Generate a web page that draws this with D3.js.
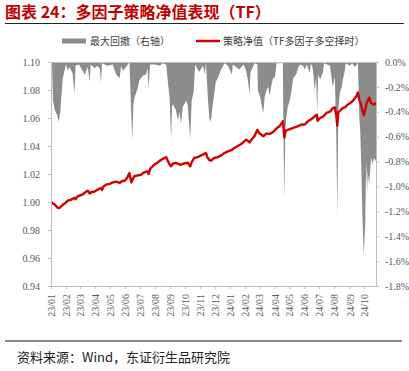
<!DOCTYPE html>
<html lang="zh">
<head>
<meta charset="UTF-8">
<title>多因子策略净值表现（TF）</title>
<script src="https://d3js.org/d3.v7.min.js"></script>
<style>
  body { margin: 0; background: #fff; }
  svg { display: block; }
</style>
</head>
<body>
<div id="chart"></div>
<script>
// 策略净值（TF多因子多空择时），从图上读出的估计值
const navDates = [
  '2023-01-02','2023-01-05','2023-01-09','2023-01-15','2023-01-19','2023-01-25','2023-01-31',
  '2023-02-04','2023-02-10','2023-02-18','2023-02-20','2023-02-24','2023-03-04','2023-03-09',
  '2023-03-14','2023-03-17','2023-03-21','2023-03-24','2023-03-31','2023-04-06','2023-04-13',
  '2023-04-15','2023-04-18','2023-04-23','2023-05-01','2023-05-07','2023-05-14','2023-05-21',
  '2023-05-26','2023-05-31','2023-06-05','2023-06-10','2023-06-14','2023-06-17','2023-06-20',
  '2023-06-27','2023-07-04','2023-07-09','2023-07-17','2023-07-19','2023-07-23','2023-07-31',
  '2023-08-06','2023-08-13','2023-08-18','2023-08-24','2023-08-28','2023-08-31','2023-09-03',
  '2023-09-07','2023-09-13','2023-09-19','2023-09-23','2023-09-29','2023-10-07','2023-10-12',
  '2023-10-15','2023-10-20','2023-10-27','2023-11-03','2023-11-08','2023-11-13','2023-11-16',
  '2023-11-20','2023-11-23','2023-11-30','2023-12-07','2023-12-14','2023-12-21','2023-12-28',
  '2024-01-04','2024-01-10','2024-01-17','2024-01-24','2024-01-29','2024-02-03','2024-02-07',
  '2024-02-10','2024-02-15','2024-02-20','2024-02-26','2024-02-29','2024-03-09','2024-03-16',
  '2024-03-22','2024-03-29','2024-04-05','2024-04-12','2024-04-18','2024-04-21','2024-04-24',
  '2024-04-28','2024-05-05','2024-05-12','2024-05-18','2024-05-25','2024-06-02','2024-06-08',
  '2024-06-14','2024-06-18','2024-06-26','2024-06-28','2024-07-03','2024-07-09','2024-07-16',
  '2024-07-23','2024-07-29','2024-08-02','2024-08-05','2024-08-07','2024-08-09','2024-08-12',
  '2024-08-18','2024-08-24','2024-08-28','2024-09-04','2024-09-08','2024-09-15','2024-09-18',
  '2024-09-21','2024-09-25','2024-09-27','2024-09-30','2024-10-03','2024-10-06','2024-10-11',
  '2024-10-15','2024-10-21','2024-10-25'
];
const navValues = [
  1.000,0.999,0.998,0.9957,0.996,0.998,0.9995,
  1.001,1.0015,1.003,1.002,1.004,1.005,1.006,
  1.0076,1.008,1.006,1.007,1.0075,1.0088,1.010,
  1.0085,1.011,1.0124,1.013,1.014,1.0145,1.0136,
  1.015,1.0152,1.017,1.0207,1.014,1.0165,1.0184,
  1.019,1.0195,1.021,1.022,1.020,1.024,1.0267,
  1.028,1.030,1.031,1.032,1.029,1.0267,1.0255,
  1.0275,1.0279,1.027,1.0265,1.0275,1.028,1.0255,
  1.0285,1.0314,1.032,1.0333,1.034,1.035,1.032,
  1.030,1.0295,1.0314,1.032,1.0333,1.035,1.0362,
  1.037,1.0386,1.040,1.0414,1.043,1.0445,1.0435,
  1.0425,1.045,1.0469,1.0516,1.0495,1.047,1.049,
  1.0485,1.050,1.0525,1.0545,1.0576,1.046,1.051,
  1.0515,1.0524,1.0533,1.054,1.0552,1.0555,1.0576,
  1.059,1.060,1.0624,1.058,1.060,1.061,1.0636,
  1.0645,1.0671,1.0676,1.062,1.0545,1.064,1.065,
  1.0671,1.068,1.0695,1.071,1.0724,1.0755,1.0783,
  1.073,1.069,1.066,1.062,1.066,1.0707,1.0745,
  1.0707,1.0695,1.0707
];

// 最大回撤（右轴，%）
const ddDates = [
  '2023-01-03','2023-01-05','2023-01-09','2023-01-13','2023-01-17','2023-01-20','2023-01-22',
  '2023-01-25','2023-01-29','2023-02-01','2023-02-04','2023-02-08','2023-02-14','2023-02-18',
  '2023-02-20','2023-02-27','2023-03-05','2023-03-11','2023-03-17','2023-03-21','2023-03-23',
  '2023-03-31','2023-04-06','2023-04-11','2023-04-13','2023-04-15','2023-04-26','2023-05-07',
  '2023-05-14','2023-05-21','2023-05-24','2023-05-28','2023-06-03','2023-06-10','2023-06-13',
  '2023-06-16','2023-06-18','2023-06-20','2023-06-27','2023-06-30','2023-07-07','2023-07-14',
  '2023-07-17','2023-07-19','2023-07-22','2023-08-01','2023-08-11','2023-08-17','2023-08-24',
  '2023-08-28','2023-08-31','2023-09-03','2023-09-05','2023-09-07','2023-09-13','2023-09-17',
  '2023-09-20','2023-09-23','2023-09-27','2023-10-04','2023-10-07','2023-10-12','2023-10-15',
  '2023-10-19','2023-10-22','2023-10-30','2023-11-07','2023-11-11','2023-11-13','2023-11-17',
  '2023-11-20','2023-11-23','2023-11-27','2023-11-30','2023-12-03','2023-12-07','2023-12-14',
  '2023-12-21','2023-12-28','2024-01-05','2024-01-07','2024-01-20','2024-01-29','2024-02-03',
  '2024-02-07','2024-02-10','2024-02-12','2024-02-16','2024-02-20','2024-02-26','2024-02-27',
  '2024-03-02','2024-03-09','2024-03-12','2024-03-16','2024-03-19','2024-03-22','2024-03-26',
  '2024-03-29','2024-04-02','2024-04-05','2024-04-15','2024-04-18','2024-04-19','2024-04-21',
  '2024-04-23','2024-04-25','2024-04-28','2024-05-02','2024-05-06','2024-05-09','2024-05-13',
  '2024-05-16','2024-05-19','2024-05-23','2024-05-29','2024-06-02','2024-06-06','2024-06-12',
  '2024-06-14','2024-06-18','2024-06-22','2024-06-25','2024-06-27','2024-06-29','2024-07-03',
  '2024-07-06','2024-07-09','2024-07-11','2024-07-23','2024-07-25','2024-07-29','2024-08-02',
  '2024-08-05','2024-08-07','2024-08-09','2024-08-12','2024-08-16','2024-08-19','2024-08-22',
  '2024-08-24','2024-09-02','2024-09-06','2024-09-12','2024-09-16','2024-09-18','2024-09-21',
  '2024-09-23','2024-09-25','2024-09-27','2024-09-30','2024-10-03','2024-10-05','2024-10-07',
  '2024-10-08','2024-10-11','2024-10-15','2024-10-18','2024-10-21','2024-10-25'
];
const ddValues = [
  0,-0.31,-0.39,-0.42,-0.48,-0.40,-0.29,
  -0.13,-0.06,-0.02,-0.07,-0.04,-0.09,-0.25,
  -0.03,-0.02,-0.06,-0.10,-0.04,-0.155,-0.02,
  -0.05,-0.03,-0.06,-0.17,-0.01,-0.03,-0.02,
  -0.10,-0.13,-0.03,-0.07,-0.04,0,-0.35,
  -0.63,-0.35,-0.29,-0.21,-0.15,-0.11,-0.10,
  -0.05,-0.22,-0.02,-0.02,-0.03,-0.01,-0.02,
  -0.18,-0.29,-0.62,-0.36,-0.34,-0.39,-0.47,
  -0.40,-0.50,-0.36,-0.31,-0.35,-0.62,-0.31,
  -0.24,-0.02,-0.08,-0.03,-0.10,0,-0.29,
  -0.45,-0.48,-0.34,-0.26,-0.16,-0.13,-0.06,
  -0.01,-0.03,-0.10,-0.02,-0.06,-0.02,-0.07,
  -0.155,-0.26,-0.08,-0.05,-0.01,-0.02,-0.23,
  -0.27,-0.41,-0.28,-0.22,-0.20,-0.27,-0.18,
  -0.13,-0.12,-0.01,-0.01,0,-0.50,-1.10,
  -0.55,-0.45,-0.36,-0.31,-0.22,-0.13,-0.11,
  -0.09,-0.05,-0.02,-0.03,-0.06,-0.02,-0.09,
  -0.01,-0.05,-0.23,-0.12,-0.41,-0.10,-0.14,
  -0.11,-0.08,-0.01,-0.03,-0.09,-0.20,-0.12,
  -0.60,-1.25,-0.40,-0.25,-0.20,-0.13,-0.08,
  -0.01,-0.03,-0.01,-0.04,-0.02,0,-0.45,
  -0.57,-0.84,-1.20,-1.56,-1.30,-0.79,-1.05,
  -0.88,-0.98,-0.77,-0.82,-0.77,-0.80
];

const leftTicks = [0.94, 0.96, 0.98, 1.00, 1.02, 1.04, 1.06, 1.08, 1.10];
const rightTicks = [-1.8, -1.6, -1.4, -1.2, -1.0, -0.8, -0.6, -0.4, -0.2, 0];

const W = 409, H = 371;
const plotL = 51, plotR = 376, plotT = 62, plotB = 286;
const serif = '"Liberation Serif", "Times New Roman", serif';
const cjk = '"Noto Sans CJK SC", "Noto Sans", sans-serif';

const parse = d3.timeParse('%Y-%m-%d');
const nav = navDates.map((d, i) => ({ date: parse(d), v: navValues[i] }));
const dd = ddDates.map((d, i) => ({ date: parse(d), v: ddValues[i] }));

const svg = d3.select('#chart').append('svg')
    .attr('width', W)
    .attr('height', H);
svg.append('rect').attr('width', W).attr('height', H).attr('fill', '#fff');

const x = d3.scaleTime()
    .domain([new Date(2023, 0, 1), new Date(2024, 9, 25)])
    .range([plotL, plotR]);
const yL = d3.scaleLinear().domain([0.94, 1.10]).range([plotB, plotT]);
const yR = d3.scaleLinear().domain([-1.8, 0]).range([plotB, plotT]);

// 标题
svg.append('text')
    .attr('x', 5).attr('y', 18)
    .attr('font-family', cjk).attr('font-weight', 'bold')
    .attr('font-size', 16).attr('fill', '#c00000')
    .text('图表 24：多因子策略净值表现（TF）');
svg.append('line')
    .attr('x1', 5).attr('x2', 404).attr('y1', 23.5).attr('y2', 23.5)
    .attr('stroke', '#222').attr('stroke-width', 1);

// 图例
svg.append('rect').attr('x', 62).attr('y', 38.5).attr('width', 24).attr('height', 5).attr('fill', '#8c8c8c');
svg.append('text').attr('x', 90).attr('y', 44.5)
    .attr('font-family', cjk).attr('font-size', 10).attr('fill', '#404040')
    .text('最大回撤（右轴）');
svg.append('line').attr('x1', 196).attr('x2', 220).attr('y1', 41).attr('y2', 41)
    .attr('stroke', '#d20000').attr('stroke-width', 2.5);
svg.append('text').attr('x', 223).attr('y', 44.5)
    .attr('font-family', cjk).attr('font-size', 10).attr('fill', '#404040')
    .text('策略净值（TF多因子多空择时）');

// 回撤面积
const area = d3.area()
    .x(d => x(d.date))
    .y0(yR(0))
    .y1(d => yR(d.v));
svg.append('path').datum(dd)
    .attr('d', area)
    .attr('fill', '#8c8c8c');

// 顶边
svg.append('line').attr('x1', plotL).attr('x2', plotR).attr('y1', plotT + 0.5).attr('y2', plotT + 0.5)
    .attr('stroke', '#bfbfbf');

// 净值线
const line = d3.line()
    .x(d => x(d.date))
    .y(d => yL(d.v));
svg.append('path').datum(nav)
    .attr('d', line)
    .attr('fill', 'none')
    .attr('stroke', '#d20000')
    .attr('stroke-width', 2.4)
    .attr('stroke-linejoin', 'round');

function styleAxis(g) {
    g.selectAll('.domain').attr('stroke', '#bfbfbf');
    g.selectAll('.tick line').attr('stroke', '#bfbfbf');
    g.selectAll('text').attr('font-family', serif).attr('font-size', 10).attr('fill', '#595959');
}

svg.append('g')
    .attr('transform', `translate(${plotL},0)`)
    .call(d3.axisLeft(yL).tickValues(leftTicks).tickFormat(d3.format('.2f')).tickSize(3).tickSizeOuter(0).tickPadding(8))
    .call(styleAxis);

svg.append('g')
    .attr('transform', `translate(${plotR},0)`)
    .call(d3.axisRight(yR).tickValues(rightTicks).tickFormat(d => d.toFixed(1) + '%').tickSize(3).tickSizeOuter(0).tickPadding(6))
    .call(styleAxis);

const xAxis = svg.append('g')
    .attr('transform', `translate(0,${plotB})`)
    .call(d3.axisBottom(x).ticks(d3.timeMonth.every(1)).tickFormat(d3.timeFormat('%y/%m')).tickSize(3).tickSizeOuter(0))
    .call(styleAxis);
xAxis.selectAll('text')
    .attr('transform', 'rotate(-90)')
    .attr('text-anchor', 'end')
    .attr('x', -8).attr('y', 0).attr('dy', '0.35em');

// 资料来源
svg.append('line')
    .attr('x1', 5).attr('x2', 402).attr('y1', 341).attr('y2', 341)
    .attr('stroke', '#8c8c8c').attr('stroke-width', 2);
svg.append('text')
    .attr('x', 17).attr('y', 362)
    .attr('font-family', cjk).attr('font-size', 13).attr('fill', '#222')
    .text('资料来源：Wind，东证衍生品研究院');
</script>
</body>
</html>
